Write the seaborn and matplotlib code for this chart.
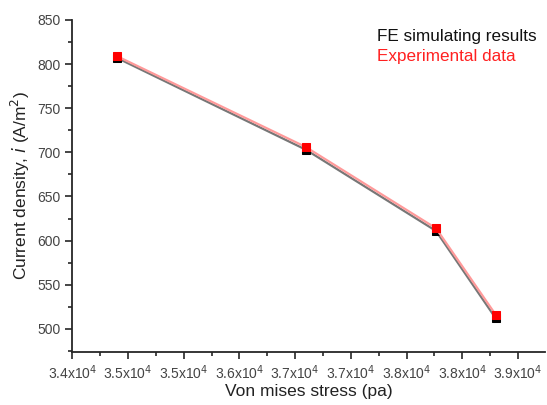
import numpy as np
import pandas as pd
import matplotlib.pyplot as plt
import seaborn as sns
from matplotlib.ticker import MultipleLocator, AutoMinorLocator

# Datos
stress = [34500, 36620, 38080, 38750]
fe_sim = [807, 703, 611, 512]
experimental = [809, 706, 614, 516]

x_ticks = [34000, 34625, 35250, 35875, 36500, 37125, 37750, 38375, 39000]
x_tick_labels = ['3.4', '3.5', '3.5', '3.6', '3.7', '3.7', '3.8', '3.8', '3.9']

sns.set_style("ticks")
plt.rcParams['font.family'] = ['Liberation Sans', 'DejaVu Sans']

fig = plt.figure(figsize=(5.47, 4.05), dpi=100)
ax = fig.add_axes([0.132, 0.131, 0.864, 0.82])

df = pd.DataFrame({'stress': stress, 'fe': fe_sim, 'exp': experimental})

# Serie FE (negro) y experimental (rojo)
sns.lineplot(x='stress', y='fe', data=df, ax=ax, color='#777777', lw=1.6,
             marker='s', markersize=6, markerfacecolor='black', markeredgecolor='black')
sns.lineplot(x='stress', y='exp', data=df, ax=ax, color='#ff9a9a', lw=1.6,
             marker='s', markersize=6, markerfacecolor='red', markeredgecolor='red')

ax.set_xlim(34000, 39300)
ax.set_ylim(474, 850)
ax.set_xticks(x_ticks)
ax.set_xticklabels([f'{t}x10$^4$' for t in x_tick_labels])
ax.yaxis.set_major_locator(MultipleLocator(50))
ax.xaxis.set_minor_locator(AutoMinorLocator(2))
ax.yaxis.set_minor_locator(AutoMinorLocator(2))
ax.tick_params(which='major', direction='out', length=5, width=1.2, labelsize=10,
               labelcolor='#444444')
ax.tick_params(which='minor', direction='out', length=3, width=1.2)
for s in ['left', 'bottom']:
    ax.spines[s].set_linewidth(1.3)
sns.despine(ax=ax)

ax.set_xlabel('Von mises stress (pa)', fontsize=12.5, color='#222222', labelpad=1)
ax.set_ylabel('Current density, $\\it{i}$ (A/m$^2$)', fontsize=12.5, color='#222222')

ax.text(0.645, 0.935, 'FE simulating results', transform=ax.transAxes,
        fontsize=12.3, color='#111111')
ax.text(0.645, 0.875, 'Experimental data', transform=ax.transAxes,
        fontsize=12.3, color='#ff2020')

plt.savefig('out.png', dpi=100)
